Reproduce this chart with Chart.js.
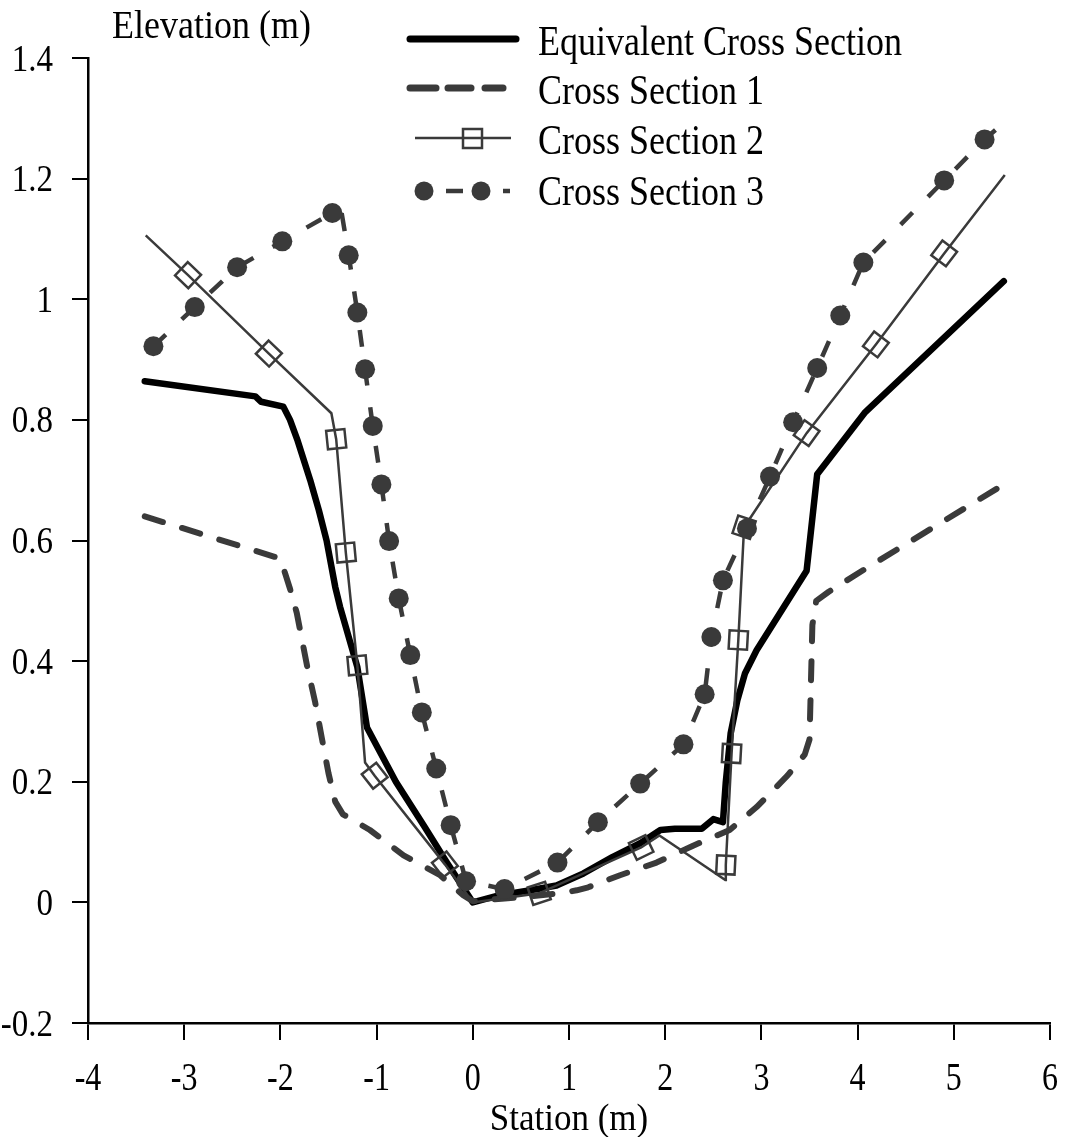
<!DOCTYPE html>
<html>
<head>
<meta charset="utf-8">
<script src="https://cdn.jsdelivr.net/npm/chart.js@4.4.0/dist/chart.umd.min.js"></script>
<style>
  html, body { margin: 0; padding: 0; background: #fff; }
</style>
</head>
<body>
<canvas id="chart" width="1065" height="1137"></canvas>
<script>
// station (m) / elevation (m)
const eqX = [-3.41, -2.26, -2.2, -1.97, -1.9, -1.82, -1.69, -1.6, -1.52, -1.43, -1.38, -1.2, -1.1, -0.8, -0.5, -0.27, 0,
  0.28, 0.6, 0.87, 1.15, 1.45, 1.74, 1.95, 2.1, 2.38, 2.5, 2.6, 2.63, 2.68, 2.75, 2.83, 2.95, 3.47, 3.58, 4.08, 5.52];
const eqY = [0.864, 0.839, 0.83, 0.822, 0.8, 0.765, 0.7, 0.65, 0.6, 0.523, 0.49, 0.39, 0.29, 0.2, 0.125, 0.066, 0,
  0.012, 0.02, 0.028, 0.048, 0.075, 0.098, 0.12, 0.122, 0.122, 0.138, 0.133, 0.2, 0.28, 0.335, 0.38, 0.418, 0.55, 0.71, 0.813, 1.03];

const cs1X = [-3.41, -2.0, -1.95, -1.9, -1.83, -1.72, -1.64, -1.57, -1.5, -1.43, -1.35, -1.07, -0.72, -0.34, -0.1, 0,
  0.3, 0.6, 0.9, 1.08, 1.2, 1.53, 1.91, 2.29, 2.67, 2.95, 3.27, 3.45, 3.5, 3.53, 3.57, 3.7, 4.08, 5.52];
const cs1Y = [0.64, 0.57, 0.545, 0.52, 0.48, 0.39, 0.333, 0.273, 0.214, 0.167, 0.146, 0.12, 0.078, 0.045, 0.012, 0.002,
  0.006, 0.01, 0.015, 0.02, 0.025, 0.045, 0.066, 0.094, 0.12, 0.158, 0.21, 0.245, 0.27, 0.46, 0.5, 0.515, 0.553, 0.693];

const cs2X = [-3.4, -2.96, -2.12, -1.47, -1.42, -1.32, -1.2, -1.12, -1.02, -0.29, 0, 0.69, 1.75, 1.94,
  2.625, 2.63, 2.69, 2.76, 2.82, 3.47, 4.19, 4.9, 5.53];
const cs2Y = [1.106, 1.04, 0.91, 0.811, 0.768, 0.58, 0.393, 0.232, 0.21, 0.063, 0, 0.015, 0.091, 0.111,
  0.037, 0.062, 0.247, 0.435, 0.622, 0.778, 0.925, 1.076, 1.206];
const cs2Marked = [0, 1, 1, 0, 1, 1, 1, 0, 1, 1, 0, 1, 1, 0, 0, 1, 1, 1, 1, 1, 1, 1, 0];

const cs3X = [-3.32, -2.89, -2.45, -1.98, -1.46, -1.36, -1.29, -1.2, -1.12, -1.04, -0.95, -0.87, -0.77, -0.65, -0.53,
  -0.38, -0.23, -0.07, 0.33, 0.88, 1.3, 1.74, 2.19, 2.41, 2.48, 2.6, 2.85, 3.09, 3.33, 3.58, 3.82, 4.06, 4.9, 5.32, 5.53];
const cs3Y = [0.922, 0.987, 1.053, 1.096, 1.143, 1.14, 1.073, 0.978, 0.884, 0.79, 0.693, 0.599, 0.504, 0.41, 0.315,
  0.222, 0.128, 0.035, 0.022, 0.066, 0.133, 0.197, 0.262, 0.345, 0.44, 0.534, 0.62, 0.706, 0.796, 0.886, 0.973, 1.061, 1.197, 1.265, 1.294];
const cs3Marked = [1, 1, 1, 1, 1, 0, 1, 1, 1, 1, 1, 1, 1, 1, 1, 1, 1, 1, 1, 1, 1, 1, 1, 1, 1, 1, 1, 1, 1, 1, 1, 1, 1, 1, 0];

const seriesNames = ['Equivalent Cross Section', 'Cross Section 1', 'Cross Section 2', 'Cross Section 3'];
const xTitle = 'Station (m)';
const yTitle = 'Elevation (m)';

const GREY = '#3a3a3a';
const FONT = '"Liberation Serif", "DejaVu Serif", serif';

function pts(xs, ys) {
  return xs.map((x, i) => ({ x: x, y: ys[i] }));
}

// squares on cross section 2 are turned to follow the line
function alongLine(ctx) {
  if (ctx.type !== 'data') return 0;
  const d = ctx.dataset.data, i = ctx.dataIndex;
  const xs = ctx.chart.scales.x, ys = ctx.chart.scales.y;
  const a = d[Math.max(i - 1, 0)], b = d[Math.min(i + 1, d.length - 1)];
  const dx = xs.getPixelForValue(b.x) - xs.getPixelForValue(a.x);
  const dy = ys.getPixelForValue(b.y) - ys.getPixelForValue(a.y);
  return Math.atan2(dy, dx) * 180 / Math.PI;
}

// the original lettering is a tall, narrow serif: stretch it a little vertically
function tallText(c, text, x, y, size, sy, align) {
  c.save();
  c.translate(x, y);
  c.scale(1, sy);
  c.font = size + 'px ' + FONT;
  c.textAlign = align;
  c.textBaseline = 'alphabetic';
  c.fillText(text, 0, 0);
  c.restore();
}

const fmt = v => String(Math.round(v * 10) / 10);

const textPlugin = {
  id: 'sectionText',
  afterDraw(chart) {
    const c = chart.ctx;
    const xs = chart.scales.x, ys = chart.scales.y;
    c.save();
    c.fillStyle = '#000';

    ys.ticks.forEach(t => tallText(c, fmt(t.value), 53, ys.getPixelForValue(t.value) + 12.5, 33, 1.15, 'right'));
    xs.ticks.forEach(t => tallText(c, fmt(t.value), xs.getPixelForValue(t.value), 1090, 32, 1.25, 'center'));
    tallText(c, xTitle, (chart.chartArea.left + chart.chartArea.right) / 2, 1130, 35, 1.1, 'center');
    tallText(c, yTitle, 112, 38, 36, 1.12, 'left');

    const rows = [40, 89, 139, 190];
    seriesNames.forEach((name, i) => tallText(c, name, 538, rows[i] + 14.5, 36, 1.2, 'left'));

    // solid
    c.strokeStyle = '#000';
    c.lineWidth = 7;
    c.lineCap = 'round';
    c.beginPath(); c.moveTo(410, 39); c.lineTo(516, 39); c.stroke();

    // dashed
    c.strokeStyle = GREY;
    [[410, 436], [448, 471], [485, 503]].forEach(s => {
      c.beginPath(); c.moveTo(s[0], 88); c.lineTo(s[1], 88); c.stroke();
    });

    // line + square
    c.lineCap = 'butt';
    c.lineWidth = 2.5;
    c.beginPath(); c.moveTo(415, 138); c.lineTo(511, 138); c.stroke();
    c.strokeRect(463, 129, 19, 19);

    // dash + dots
    c.fillStyle = GREY;
    c.lineWidth = 4.5;
    [424, 481].forEach(x => { c.beginPath(); c.arc(x, 191, 9.5, 0, Math.PI * 2); c.fill(); });
    [[446, 463], [503, 510]].forEach(s => {
      c.beginPath(); c.moveTo(s[0], 191); c.lineTo(s[1], 191); c.stroke();
    });
    c.restore();
  }
};

new Chart(document.getElementById('chart'), {
  type: 'line',
  data: {
    datasets: [
      {
        label: seriesNames[0],
        data: pts(eqX, eqY),
        borderColor: '#000',
        borderWidth: 6.5,
        borderCapStyle: 'round',
        borderJoinStyle: 'round',
        pointRadius: 0,
        order: 4
      },
      {
        label: seriesNames[1],
        data: pts(cs1X, cs1Y),
        borderColor: GREY,
        borderWidth: 6,
        borderDash: [19, 20],
        borderCapStyle: 'round',
        borderJoinStyle: 'round',
        pointRadius: 0,
        order: 3
      },
      {
        label: seriesNames[2],
        data: pts(cs2X, cs2Y),
        borderColor: GREY,
        borderWidth: 2.5,
        pointStyle: 'rect',
        pointRadius: ctx => cs2Marked[ctx.dataIndex] ? 13 : 0,
        pointRotation: alongLine,
        pointBorderColor: GREY,
        pointBackgroundColor: 'rgba(255,255,255,0)',
        pointBorderWidth: 2.5,
        order: 2
      },
      {
        label: seriesNames[3],
        data: pts(cs3X, cs3Y),
        borderColor: GREY,
        borderWidth: 4.5,
        borderDash: [17, 22],
        pointStyle: 'circle',
        pointRadius: ctx => cs3Marked[ctx.dataIndex] ? 10 : 0,
        pointBorderWidth: 0,
        pointBackgroundColor: GREY,
        pointBorderColor: GREY,
        order: 1
      }
    ]
  },
  options: {
    responsive: false,
    animation: false,
    events: [],
    layout: { padding: { left: 0, top: 58, right: 15, bottom: 0 } },
    plugins: {
      legend: { display: false },
      tooltip: { enabled: false }
    },
    scales: {
      x: {
        type: 'linear',
        min: -4,
        max: 6,
        afterFit: s => { s.height = 114; },
        grid: { drawOnChartArea: false, drawTicks: true, tickLength: 17, color: '#000', lineWidth: 2 },
        border: { display: true, color: '#000', width: 2.5 },
        ticks: { stepSize: 1, display: false }
      },
      y: {
        min: -0.2,
        max: 1.4,
        afterFit: s => { s.width = 88; },
        grid: { drawOnChartArea: false, drawTicks: true, tickLength: 16, color: '#000', lineWidth: 2 },
        border: { display: true, color: '#000', width: 2.5 },
        ticks: { stepSize: 0.2, display: false }
      }
    }
  },
  plugins: [textPlugin]
});
</script>
</body>
</html>
